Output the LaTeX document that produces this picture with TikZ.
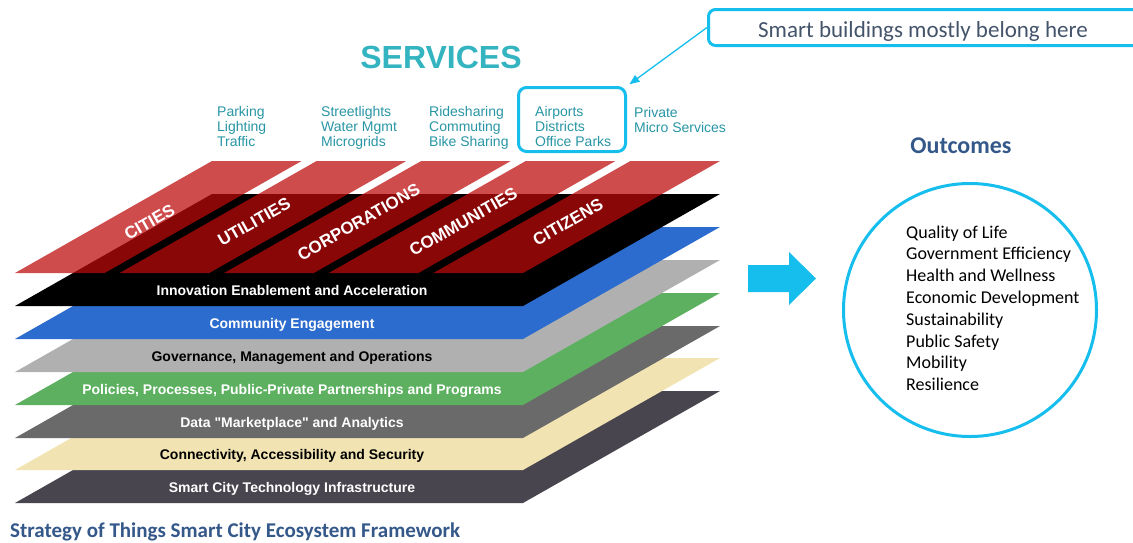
\documentclass[tikz,border=0pt]{standalone}
\usepackage{fontspec}
\setmainfont{Liberation Sans}[Ligatures=TeXOff]
\newfontfamily\carlito{Carlito}
\usetikzlibrary{arrows.meta}
\definecolor{cyanc}{RGB}{22,190,238}
\definecolor{teala}{RGB}{52,180,192}
\definecolor{tealb}{RGB}{40,150,165}
\definecolor{navya}{RGB}{52,88,138}
\definecolor{slatec}{RGB}{68,84,106}
\definecolor{redc}{RGB}{190,10,12}
\definecolor{Lblack}{RGB}{0,0,0}
\definecolor{Lblue}{RGB}{44,108,206}
\definecolor{Lgray}{RGB}{176,176,176}
\definecolor{Lgreen}{RGB}{92,176,96}
\definecolor{Ldgray}{RGB}{106,106,106}
\definecolor{Lbeige}{RGB}{242,228,178}
\definecolor{Ldark}{RGB}{72,69,79}
\tikzset{
  layertext/.style={anchor=base,inner sep=0pt,font=\fontsize{14}{16}\selectfont\bfseries},
  stripetext/.style={inner sep=0pt,text=white,rotate=29.6,font=\fontsize{17}{19}\selectfont\bfseries},
  svc/.style={anchor=base west,inner sep=0pt,text=tealb,font=\fontsize{14}{15}\selectfont},
  outitem/.style={anchor=base west,inner sep=0pt,text=black,font=\carlito\fontsize{18}{20}\selectfont},
  cyanbox/.style={draw=cyanc,line width=3pt,rounded corners=7pt,inner sep=0pt},
}
\begin{document}
\begin{tikzpicture}[x=1pt,y=-1pt]
\clip (0,0) rectangle (1133,542);
\fill[white] (0,0) rectangle (1133,542);
% layers
\foreach \yb/\col/\tc/\txt [count=\i] in {
  503/Ldark/white/{Smart City Technology Infrastructure},
  470/Lbeige/black/{Connectivity, Accessibility and Security},
  438/Ldgray/white/{Data "Marketplace" and Analytics},
  405/Lgreen/white/{Policies, Processes, Public-Private Partnerships and Programs},
  372/Lgray/black/{Governance, Management and Operations},
  339/Lblue/white/{Community Engagement},
  306/Lblack/white/{Innovation Enablement and Acceleration}}{
  \fill[\col] (15,\yb) -- (523,\yb) -- (720,\yb-112) -- (212,\yb-112) -- cycle;
  \node[layertext,text=\tc] (L\i) at (292,\yb-11) {\txt};
}
% red stakeholder stripes
\foreach \lab [count=\i] in {CITIES,UTILITIES,CORPORATIONS,COMMUNITIES,CITIZENS}{
  \pgfmathsetmacro\xt{212+(\i-1)*104.6}
  \fill[redc,fill opacity=0.73] (\xt,161) -- (\xt+89.6,161) -- (\xt+89.6-197,273) -- (\xt-197,273) -- cycle;
  \node[stripetext] (R\i) at (\xt-62.5,222) {\lab};
}
% services
\node[anchor=base,inner sep=0pt,text=teala,font=\fontsize{32}{36}\selectfont\bfseries] (services) at (441,68) {SERVICES};
\foreach \x/\a/\b/\c [count=\i] in {217/Parking/Lighting/Traffic,
  321/Streetlights/Water Mgmt/Microgrids,
  429/Ridesharing/Commuting/Bike Sharing,
  535/Airports/Districts/Office Parks}{
  \node[svc] (s\i-a) at (\x,116) {\a};
  \node[svc] (s\i-b) at (\x,131) {\b};
  \node[svc] (s\i-c) at (\x,146) {\c};
}
\node[svc] (s5-a) at (634,117) {Private};
\node[svc] (s5-b) at (634,132) {Micro Services};
\node[cyanbox,rounded corners=8pt,minimum width=107pt,minimum height=64pt] (airbox) at (572,119.5) {};
% callout
\node[cyanbox,minimum width=440pt,minimum height=36pt] (call) at (928.5,27.5) {};
\node[anchor=base,inner sep=0pt,text=slatec,font=\carlito\fontsize{23}{25}\selectfont] (calltext) at (923,37) {Smart buildings mostly belong here};
\draw[cyanc,line width=1.3pt,-{Triangle[length=10pt,width=8pt]},shorten >=3pt] (call.west) -- (airbox.north east);
% big arrow
\fill[cyanc] (748,265) -- (789,265) -- (789,252) -- (816,278.5) -- (789,305) -- (789,292) -- (748,292) -- cycle;
% outcomes
\node[anchor=base,inner sep=0pt,text=navya,font=\carlito\bfseries\fontsize{24}{26}\selectfont] (outtitle) at (961,153) {Outcomes};
\node[circle,draw=cyanc,line width=3pt,minimum size=253pt,inner sep=0pt] (outc) at (970,310) {};
\foreach \t [count=\i] in {Quality of Life,Government Efficiency,Health and Wellness,Economic Development,Sustainability,Public Safety,Mobility,Resilience}{
  \node[outitem] (o\i) at (906,{238+21.8*(\i-1)}) {\t};
}
% caption
\node[anchor=base west,inner sep=0pt,text=navya,font=\carlito\bfseries\fontsize{21}{23}\selectfont] (caption) at (10,537) {Strategy of Things Smart City Ecosystem Framework};
\end{tikzpicture}
\end{document}
